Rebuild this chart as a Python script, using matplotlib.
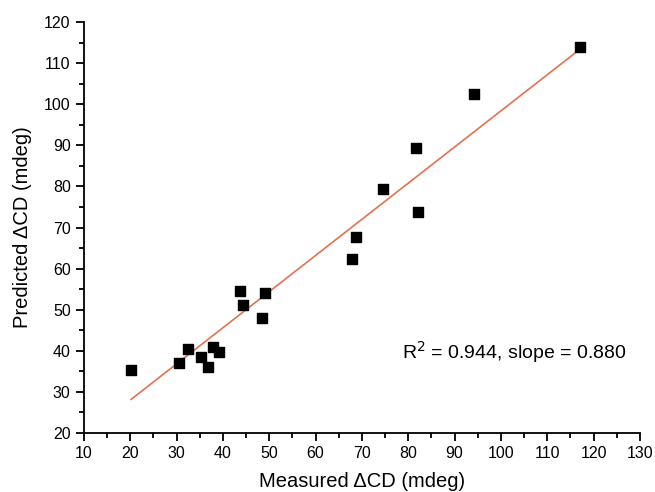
import matplotlib
matplotlib.use("Agg")
import matplotlib.pyplot as plt
import numpy as np
from matplotlib.ticker import MultipleLocator

plt.rcParams['font.family'] = ['Liberation Sans', 'DejaVu Sans']

measured = [20.2, 30.6, 32.5, 35.3, 36.7, 37.9, 39.2, 43.6, 44.4, 48.4, 49.2,
            67.8, 68.8, 74.5, 81.7, 82.1, 94.1, 117.1]
predicted = [35.3, 37.1, 40.4, 38.6, 36.0, 40.9, 39.7, 54.5, 51.2, 47.9, 54.0,
             62.3, 67.8, 79.4, 89.3, 73.8, 102.5, 114.0]
fit_slope = 0.880
fit_intercept = 10.4
annotation = "R$^2$ = 0.944, slope = 0.880"

fig = plt.figure(figsize=(6.55, 4.92), dpi=100)
ax = fig.add_axes([0.128, 0.12, 0.849, 0.835])

ax.scatter(measured, predicted, marker='s', s=55, color='black', zorder=3)
xl = np.array([min(measured), max(measured)])
ax.plot(xl, fit_slope * xl + fit_intercept, color='#e5714f', lw=1.2, zorder=2)

ax.set_xlim(10, 130)
ax.set_ylim(20, 120)
ax.xaxis.set_major_locator(MultipleLocator(10))
ax.xaxis.set_minor_locator(MultipleLocator(5))
ax.yaxis.set_major_locator(MultipleLocator(10))
ax.yaxis.set_minor_locator(MultipleLocator(5))
for s in ['top', 'right']:
    ax.spines[s].set_visible(False)
for s in ['left', 'bottom']:
    ax.spines[s].set_linewidth(1.3)
ax.tick_params(which='major', direction='out', length=6, width=1.3, labelsize=11.5)
ax.tick_params(which='minor', direction='out', length=3.5, width=1.3)

ax.set_xlabel("Measured \u0394CD (mdeg)", fontsize=14.5, labelpad=8)
ax.set_ylabel("Predicted \u0394CD (mdeg)", fontsize=14.5, labelpad=9)
ax.text(0.572, 0.197, annotation, transform=ax.transAxes, ha='left',
        va='center', fontsize=14)

fig.savefig("out.png", dpi=100)
